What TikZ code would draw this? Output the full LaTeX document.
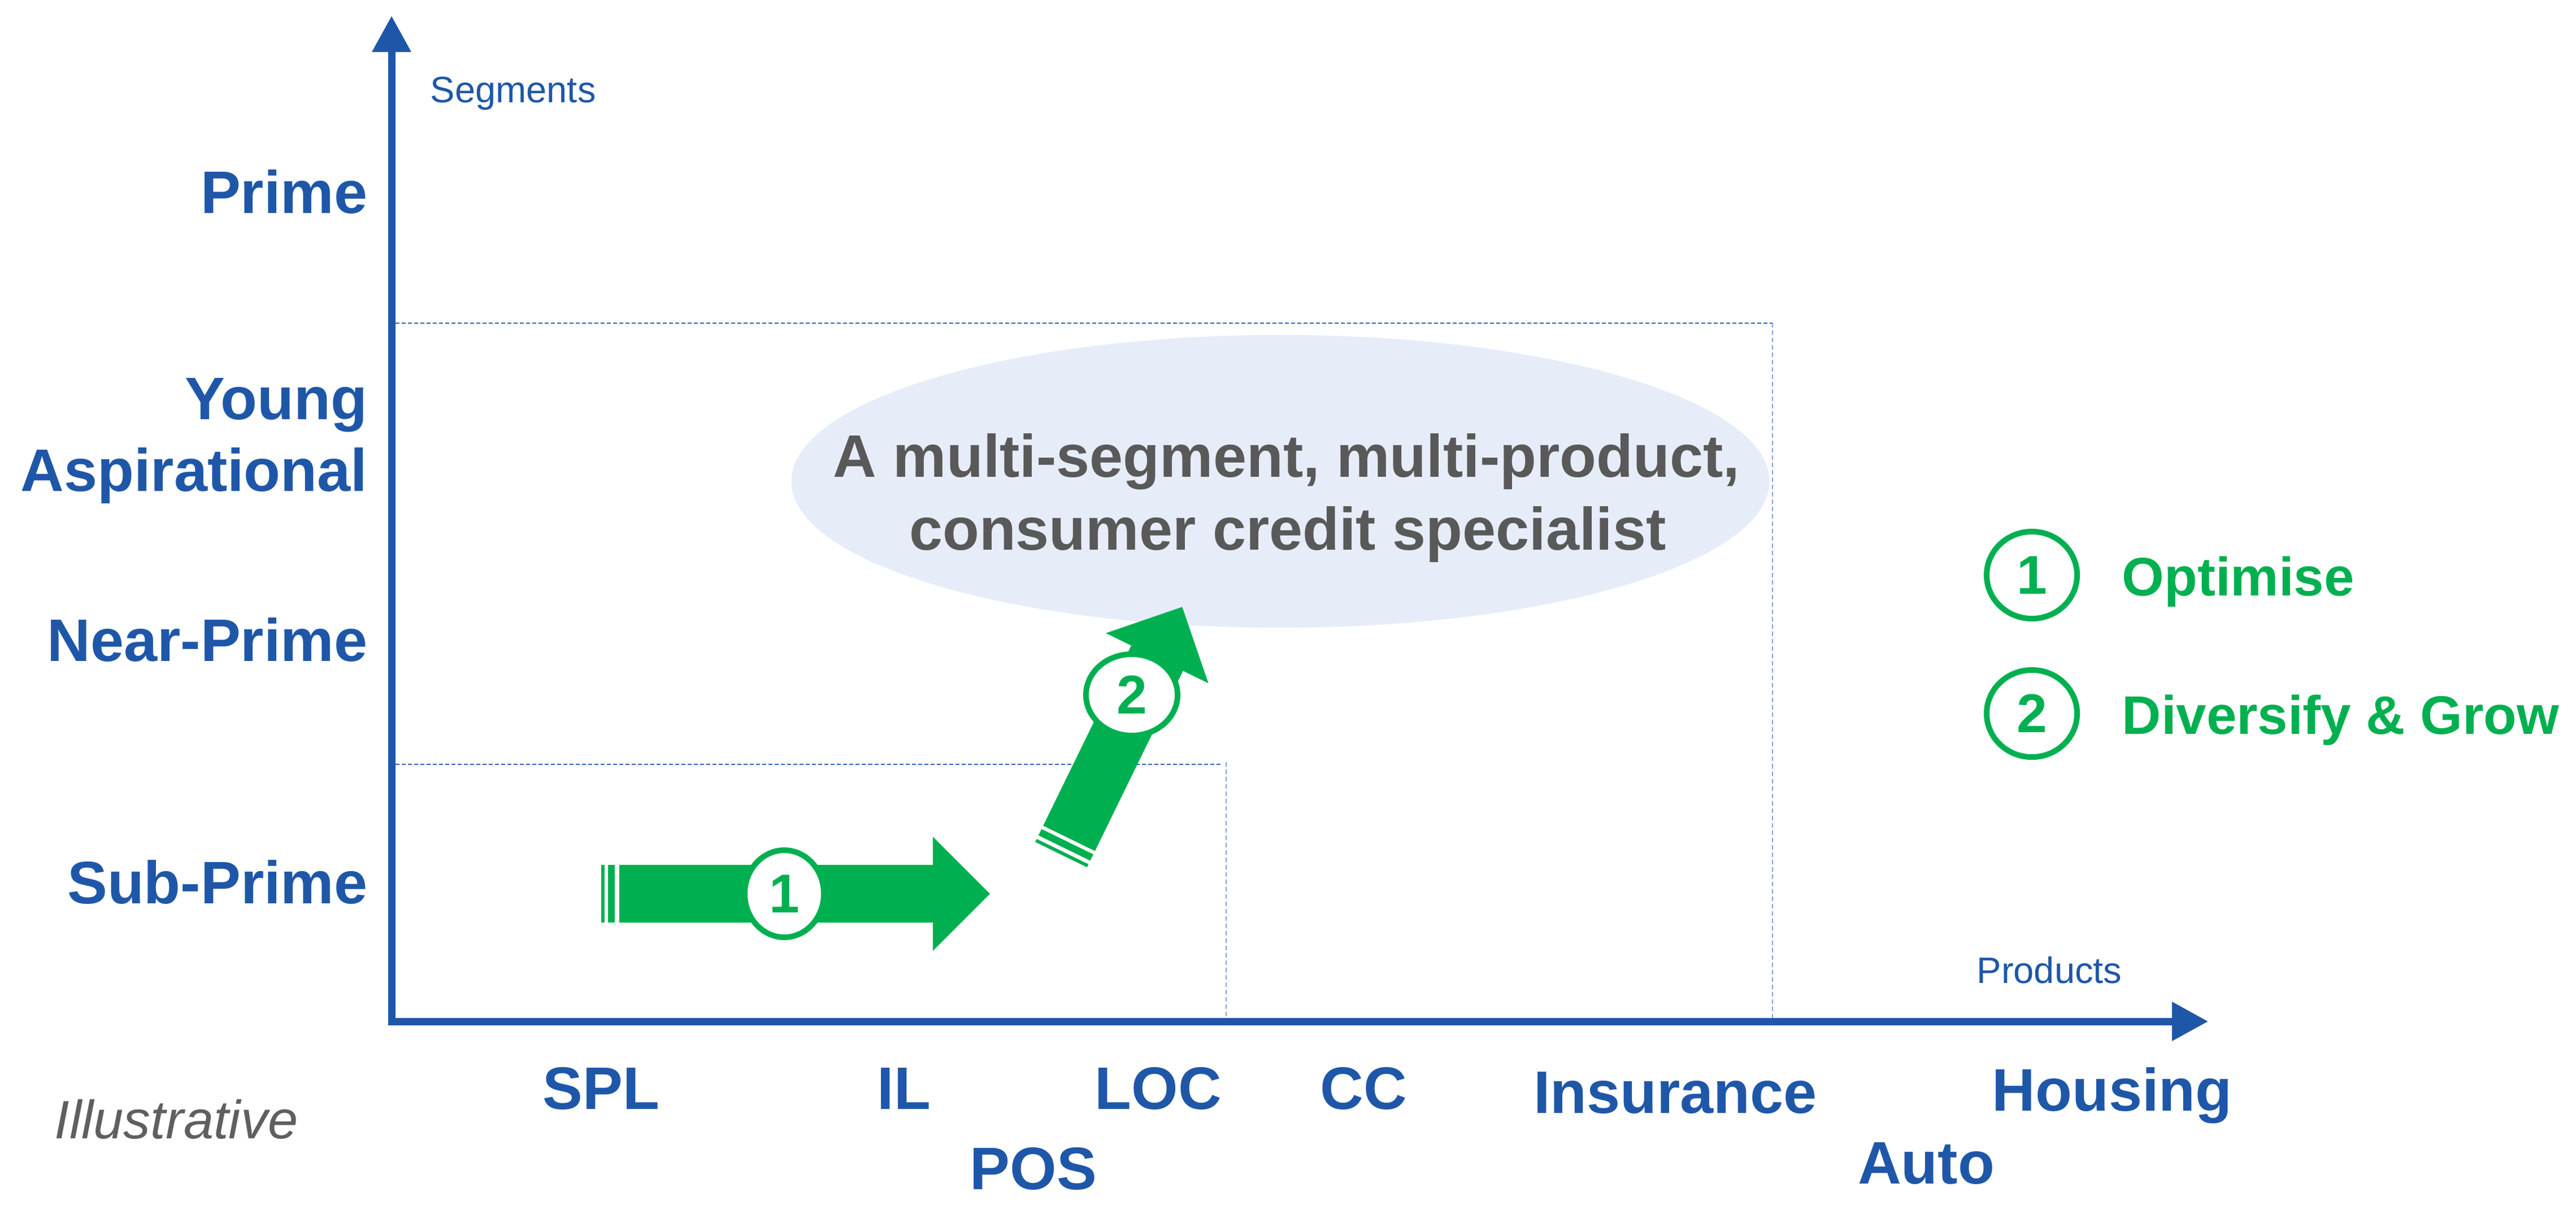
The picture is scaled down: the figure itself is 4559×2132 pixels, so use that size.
\documentclass[tikz,border=0pt]{standalone}
\usepackage{fontspec}
\setmainfont{Liberation Sans}
\usetikzlibrary{arrows.meta,shapes.geometric}
\definecolor{axblue}{RGB}{31,87,168}
\definecolor{grn}{RGB}{0,176,80}
\definecolor{txtgray}{RGB}{89,89,89}
\definecolor{illgray}{RGB}{95,95,95}
\definecolor{ellfill}{RGB}{230,237,249}
\definecolor{dotdark}{RGB}{47,95,190}
\definecolor{dotlight}{RGB}{130,160,215}
\tikzset{
  axis/.style={draw=axblue, line width=0.13cm, line join=miter,
    arrows={Triangle[length=0.64cm,width=0.66cm]-Triangle[length=0.64cm,width=0.66cm]}},
  seglabel/.style={text=axblue, inner sep=0, font=\fontsize{30.2}{36}\selectfont\bfseries},
  axtitle/.style={text=axblue, inner sep=0, font=\fontsize{18.5}{22}\selectfont},
  claim/.style={text=txtgray, inner sep=0, font=\fontsize{30.2}{36}\selectfont\bfseries},
  hline/.style={draw=dotdark, line width=0.028cm, dash pattern=on 0.07cm off 0.04cm},
  vline/.style={draw=dotlight, line width=0.028cm, dash pattern=on 0.08cm off 0.05cm},
  badge/.style={ellipse, draw=grn, fill=white, line width=0.10cm, inner sep=0,
    text=grn, font=\fontsize{27.5}{30}\selectfont\bfseries},
  legbadge/.style={badge, minimum width=1.60cm, minimum height=1.54cm},
  legtext/.style={text=grn, inner sep=0, font=\fontsize{27.3}{30}\selectfont\bfseries},
}
\begin{document}
\begin{tikzpicture}[x=0.01cm, y=-0.01cm]
\useasboundingbox (0,0) rectangle (4559,2132);
\fill[white] (0,0) rectangle (4559,2132);

% ellipse background
\node[ellipse, fill=ellfill, minimum width=17.30cm, minimum height=5.18cm, inner sep=0] (ell) at (2266,852) {};
\node[claim, anchor=base] (claim1) at (2277,844) {A multi-segment, multi-product,};
\node[claim, anchor=base] (claim2) at (2279,973) {consumer credit specialist};

% dotted frames
\coordinate (o1) at (700,572);
\coordinate (o2) at (3137,572);
\coordinate (o3) at (3137,1802);
\coordinate (i1) at (700,1353);
\coordinate (i2) at (2160,1353);
\coordinate (i3) at (2170,1349);
\coordinate (i4) at (2170,1802);
\draw[hline] (o1) -- (o2);
\draw[vline] (o2) -- (o3);
\draw[hline] (i1) -- (i2);
\draw[vline] (i3) -- (i4);

% axes
\coordinate (ytip) at (693,28);
\coordinate (O) at (693,1808);
\coordinate (xtip) at (3908,1808);
\draw[axis] (ytip) -- (O) -- (xtip);

\node[axtitle, anchor=base west] (segs) at (761,181) {Segments};
\node[axtitle, anchor=base west] (prods) at (3498,1740) {Products};

% segment labels
\node[seglabel, anchor=base east] (prime) at (651,377) {Prime};
\node[seglabel, anchor=base east] (young) at (651,742) {Young};
\node[seglabel, anchor=base east] (aspir) at (651,869) {Aspirational};
\node[seglabel, anchor=base east] (near) at (651,1170) {Near-Prime};
\node[seglabel, anchor=base east] (sub) at (651,1599) {Sub-Prime};

% product labels
\node[seglabel, anchor=base] (spl) at (1064,1963) {SPL};
\node[seglabel, anchor=base] (il) at (1600,1963) {IL};
\node[seglabel, anchor=base] (loc) at (2050,1963) {LOC};
\node[seglabel, anchor=base] (cc) at (2413,1963) {CC};
\node[seglabel, anchor=base] (ins) at (2965,1970) {Insurance};
\node[seglabel, anchor=base] (hou) at (3738,1966) {Housing};
\node[seglabel, anchor=base] (pos) at (1829,2105) {POS};
\node[seglabel, anchor=base] (auto) at (3409,2095) {Auto};

\node[text=illgray, inner sep=0, anchor=base west, font=\fontsize{27.2}{30}\selectfont\itshape] (illus) at (96,2015) {Illustrative};

% arrow 1
\begin{scope}[shift={(1096,1582)}]
  \fill[grn] (-32,-51) rectangle (-26,51);
  \fill[grn] (-20,-51) rectangle (-8,51);
  \fill[grn] (0,-51) -- (555,-51) -- (555,-101) -- (656,0) -- (555,101) -- (555,51) -- (0,51) -- cycle;
\end{scope}
\node[badge, minimum width=1.40cm, minimum height=1.54cm] (b1) at (1388,1582) {1};

% arrow 2
\begin{scope}[shift={(1892,1484)}, rotate=63.95]
  \fill[grn] (-32,-51) rectangle (-26,51);
  \fill[grn] (-19,-51) rectangle (-6.5,51);
  \fill[grn] (0,-51) -- (355,-51) -- (355,-101) -- (456,0) -- (355,101) -- (355,51) -- (0,51) -- cycle;
\end{scope}
\node[badge, minimum width=1.62cm, minimum height=1.44cm] (b2) at (2003,1230) {2};

% legend
\node[legbadge] (l1) at (3596,1018) {1};
\node[legbadge] (l2) at (3596,1263) {2};
\node[legtext, anchor=base west] (opt) at (3755,1054) {Optimise};
\node[legtext, anchor=base west] (div) at (3755,1299) {Diversify \& Grow};
\end{tikzpicture}
\end{document}
